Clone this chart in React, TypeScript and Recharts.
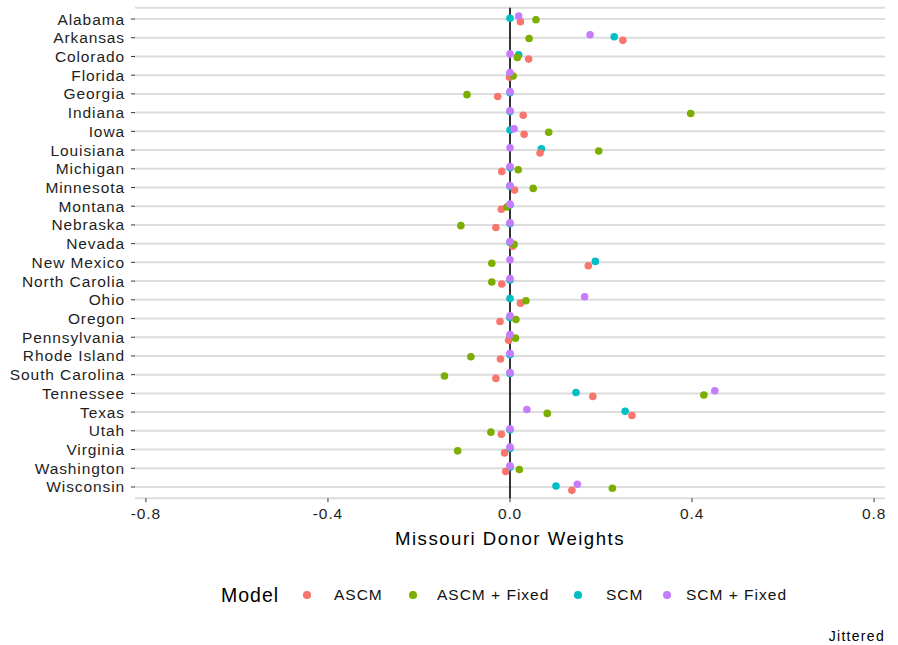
import { ScatterChart, Scatter, XAxis, YAxis, CartesianGrid, ReferenceLine } from "recharts";

const states = [
  "Alabama", "Arkansas", "Colorado", "Florida", "Georgia", "Indiana", "Iowa", "Louisiana",
  "Michigan", "Minnesota", "Montana", "Nebraska", "Nevada", "New Mexico", "North Carolia",
  "Ohio", "Oregon", "Pennsylvania", "Rhode Island", "South Carolina", "Tennessee", "Texas",
  "Utah", "Virginia", "Washington", "Wisconsin",
];

// weights per state, same order as `states`
const ascm = [
  0.023, 0.248, 0.041, -0.001, -0.027, 0.029, 0.031, 0.066, -0.018, 0.01, -0.019, -0.031, 0.006,
  0.172, -0.018, 0.023, -0.022, -0.003, -0.021, -0.031, 0.182, 0.268, -0.019, -0.012, -0.0095, 0.136,
];
const ascmFixed = [
  0.057, 0.042, 0.016, 0.007, -0.0945, 0.397, 0.085, 0.195, 0.018, 0.051, -0.007, -0.108, 0.009,
  -0.04, -0.04, 0.035, 0.013, 0.012, -0.086, -0.144, 0.426, 0.082, -0.042, -0.115, 0.0205, 0.225,
];
const scm = [
  0, 0.229, 0.019, 0, 0, 0, 0, 0.069, 0, 0, 0, 0, 0,
  0.1875, 0, 0, 0, 0, 0, 0, 0.145, 0.253, 0, 0, 0, 0.101,
];
const scmFixed = [
  0.019, 0.176, 0, 0, 0, 0, 0.009, 0, 0, 0, 0, 0, 0,
  0, 0, 0.164, 0, 0, 0, 0, 0.45, 0.037, 0, 0, 0, 0.148,
];

// vertical jitter (in rows) as seen in the picture
const ascmJit = [
  0.14, 0.14, 0.14, 0.11, 0.14, 0.14, 0.16, 0.16, 0.14, 0.14, 0.16, 0.14, 0.14,
  0.18, 0.16, 0.18, 0.16, 0.16, 0.16, 0.2, 0.16, 0.18, 0.18, 0.18, 0.18, 0.18,
];
const ascmFixedJit = [
  0.04, 0.04, 0.05, 0.04, 0.04, 0.05, 0.05, 0.05, 0.05, 0.05, 0.04, 0.04, 0.04,
  0.05, 0.05, 0.05, 0.05, 0.05, 0.04, 0.07, 0.09, 0.07, 0.07, 0.07, 0.07, 0.07,
];
const scmJit = [
  -0.04, -0.05, -0.09, -0.06, -0.06, -0.06, -0.07, -0.07, -0.06, -0.06, -0.06, -0.06, -0.06,
  -0.05, -0.06, -0.07, -0.06, -0.06, -0.06, -0.06, -0.05, -0.04, -0.06, -0.06, -0.06, -0.05,
];
const scmFixedJit = [
  -0.16, -0.16, -0.14, -0.14, -0.12, -0.1, -0.14, -0.12, -0.12, -0.11, -0.11, -0.11, -0.11,
  -0.14, -0.14, -0.16, -0.14, -0.14, -0.14, -0.11, -0.14, -0.14, -0.11, -0.13, -0.13, -0.14,
];

const models = ["ASCM", "ASCM + Fixed", "SCM", "SCM + Fixed"];
const colors = ["#F8766D", "#7CAE00", "#00BFC4", "#C77CFF"];
const xTicks = [-0.8, -0.4, 0, 0.4, 0.8];

const FONT = '"Liberation Sans", Arial, Helvetica, sans-serif';

function toPoints(values: number[], jit: number[]) {
  return values.map((x, i) => ({ x, y: i + jit[i], state: states[i] }));
}

const series = [
  { name: models[2], color: colors[2], data: toPoints(scm, scmJit) },
  { name: models[0], color: colors[0], data: toPoints(ascm, ascmJit) },
  { name: models[1], color: colors[1], data: toPoints(ascmFixed, ascmFixedJit) },
  { name: models[3], color: colors[3], data: toPoints(scmFixed, scmFixedJit) },
];

const dot = (color: string) => (props: any) =>
  <circle cx={props.cx} cy={props.cy} r={3.8} fill={color} />;

const tickStyle = { fontSize: 15.5, fill: "#1e1e1e", fontFamily: FONT, letterSpacing: 0.9 };

const legendDotX = [307, 413, 578, 667];
const legendTextX = [334, 437, 606, 686];

export default function App() {
  return (
    <div style={{ position: "absolute", left: 0, top: 0, width: 898, height: 645, background: "#fff", fontFamily: FONT }}>
      <ScatterChart width={898} height={645} margin={{ top: 7.8, right: 13, bottom: 116.8, left: 0 }}>
        <CartesianGrid vertical={false} stroke="#dcdcdc" strokeWidth={2} />
        <XAxis
          type="number"
          dataKey="x"
          domain={[-0.824, 0.824]}
          ticks={xTicks}
          allowDataOverflow
          axisLine={false}
          tickLine={{ stroke: "#333" }}
          tickSize={4}
          tickMargin={6}
          height={30}
          tick={tickStyle}
          tickFormatter={(v: number) => v.toFixed(1)}
          label={{ value: "Missouri Donor Weights", position: "bottom", offset: 3.5, style: { fontSize: 18.6, fill: "#000", fontFamily: FONT, letterSpacing: 1.5 } }}
        />
        <YAxis
          type="number"
          dataKey="y"
          domain={[-0.6, 25.6]}
          ticks={states.map((_, i) => i)}
          reversed
          allowDataOverflow
          interval={0}
          axisLine={false}
          tickLine={{ stroke: "#333" }}
          tickSize={4}
          tickMargin={6}
          width={135}
          tick={tickStyle}
          tickFormatter={(v: number) => states[v] ?? ""}
        />
        <ReferenceLine x={0} stroke="#000" strokeWidth={1.6} />
        {series.map((s) => (
          <Scatter key={s.name} name={s.name} data={s.data} fill={s.color} shape={dot(s.color)} isAnimationActive={false} />
        ))}
      </ScatterChart>

      {/* legend */}
      <div style={{ position: "absolute", left: 221, top: 584, fontSize: 19.5, lineHeight: "22px", letterSpacing: 1, color: "#000" }}>Model</div>
      {models.map((m, i) => (
        <div key={m}>
          <div style={{ position: "absolute", left: legendDotX[i] - 3.8, top: 595 - 3.8, width: 7.6, height: 7.6, borderRadius: "50%", background: colors[i] }} />
          <div style={{ position: "absolute", left: legendTextX[i], top: 586, fontSize: 15.5, lineHeight: "18px", letterSpacing: 1, color: "#111" }}>{m}</div>
        </div>
      ))}

      <div style={{ position: "absolute", right: 13, top: 627, fontSize: 14, lineHeight: "18px", letterSpacing: 1.3, color: "#000" }}>Jittered</div>
    </div>
  );
}
